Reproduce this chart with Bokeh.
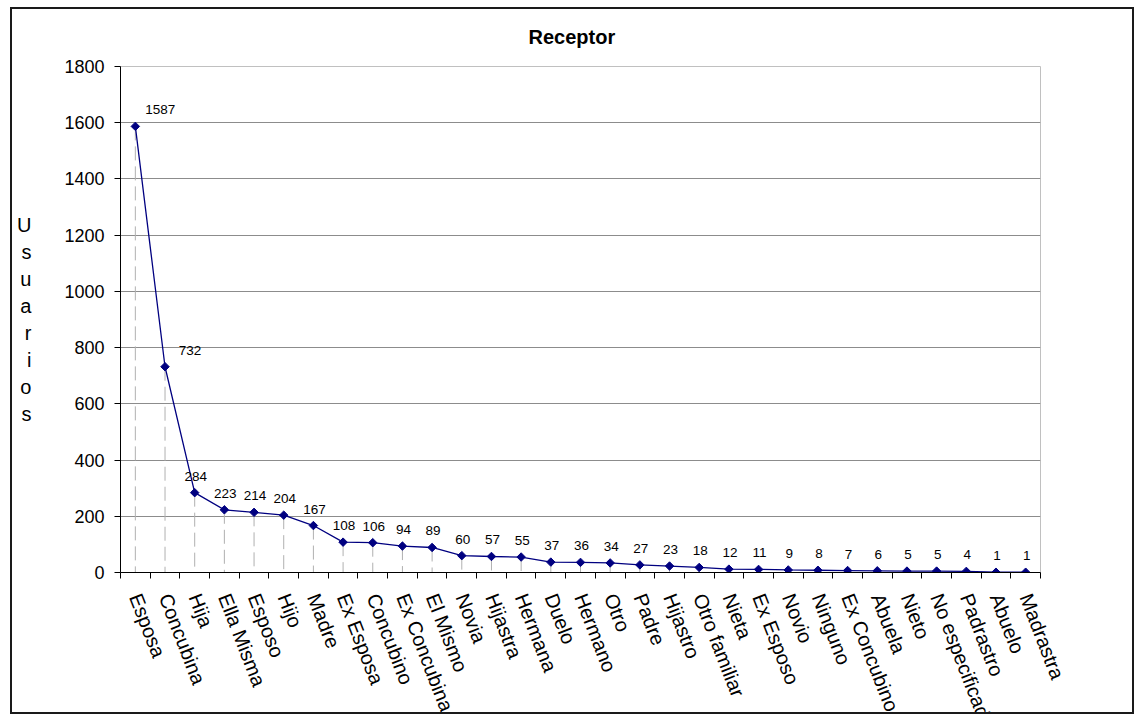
from bokeh.plotting import figure
from bokeh.models import ColumnDataSource, Range1d, FixedTicker, LabelSet
from bokeh.core.properties import value
from bokeh.embed import file_html
from bokeh.resources import INLINE

# ---- data ----
categories = ["Esposa", "Concubina", "Hija", "Ella Misma", "Esposo", "Hijo", "Madre",
              "Ex  Esposa", "Concubino", "Ex Concubina", "El Mismo", "Novia", "Hijastra",
              "Hermana", "Duelo", "Hermano", "Otro", "Padre", "Hijastro", "Otro familiar",
              "Nieta", "Ex  Esposo", "Novio", "Ninguno", "Ex Concubino", "Abuela", "Nieto",
              "No especificado", "Padrastro", "Abuelo", "Madrastra"]
values = [1587, 732, 284, 223, 214, 204, 167, 108, 106, 94, 89, 60, 57, 55, 37, 36, 34,
          27, 23, 18, 12, 11, 9, 8, 7, 6, 5, 5, 4, 1, 1]
y_ticks = [0, 200, 400, 600, 800, 1000, 1200, 1400, 1600, 1800]
chart_title = "Receptor"
y_title = "Usuarios"

n = len(categories)
idx = list(range(n))
bounds = [i - 0.5 for i in range(n + 1)]
y_lo, y_hi = y_ticks[0], y_ticks[-1]

FONT = "Liberation Sans"

src = ColumnDataSource(dict(
    x=idx, y=values, zero=[y_lo] * n,
    text=[str(v) for v in values],
    xoff=[25 if v > 500 else 1 for v in values],
))

p = figure(frame_width=920, frame_height=506,
           x_range=Range1d(-0.5, n - 0.5), y_range=Range1d(y_lo, y_hi),
           output_backend="svg", toolbar_location=None,
           min_border_left=108, min_border_right=92, min_border_top=57, min_border_bottom=144,
           background_fill_color="white", border_fill_color="white")
p.styles = {"border": "2px solid #1a1a1a", "margin-left": "10px", "margin-top": "7px",
            "height": "707px", "overflow": "hidden"}

p.outline_line_color = "#c0c0c0"
p.outline_line_width = 1

# title
p.title.text = chart_title
p.title.align = "left"
p.title.offset = 408
p.title.vertical_align = "top"
p.title.standoff = 33
p.title.text_font = FONT
p.title.text_font_size = "20px"
p.title.text_font_style = "bold"
p.title.text_color = "black"

# grid
p.xgrid.visible = False
p.ygrid.ticker = FixedTicker(ticks=y_ticks)
p.ygrid.grid_line_color = "#8c8c8c"
p.ygrid.grid_line_width = 1

# y axis
ya = p.yaxis[0]
ya.ticker = FixedTicker(ticks=y_ticks)
ya.axis_line_color = "black"
ya.major_tick_line_color = "black"
ya.major_tick_out = 6
ya.major_tick_in = 0
ya.minor_tick_out = 0
ya.minor_tick_in = 0
ya.major_label_standoff = 10
ya.major_label_text_font = FONT
ya.major_label_text_font_size = "18px"
ya.major_label_text_color = "black"
ya.axis_label = "\n".join(list(y_title))
ya.axis_label_text_font = FONT
ya.axis_label_text_font_size = "20px"
ya.axis_label_text_font_style = "normal"
ya.axis_label_text_color = "black"
ya.axis_label_text_line_height = 1.23
ya.axis_label_standoff = 30
try:
    ya.axis_label_orientation = "horizontal"
except Exception:
    pass

# x axis: names at category centres, tick marks at category boundaries
xa = p.xaxis[0]
xa.ticker = FixedTicker(ticks=idx, minor_ticks=bounds)
xa.major_label_overrides = {i: c for i, c in zip(idx, categories)}
xa.major_label_orientation = -1.2
xa.major_tick_out = 0
xa.major_tick_in = 0
xa.minor_tick_out = 6
xa.minor_tick_in = 0
xa.minor_tick_line_color = "black"
xa.axis_line_color = "black"
xa.major_label_standoff = 16
xa.major_label_text_font = FONT
xa.major_label_text_font_size = "20px"
xa.major_label_text_color = "black"

# drop lines
p.segment(x0="x", y0="y", x1="x", y1="zero", source=src,
          line_color="#b0b0b0", line_width=1, line_dash="14 6")

# series
p.line("x", "y", source=src, line_color="#000080", line_width=1.3)
p.scatter("x", "y", source=src, marker="square", angle=0.785398, size=6,
          fill_color="#000080", line_color="#000080")

p.add_layout(LabelSet(x="x", y="y", text="text", source=src, x_offset="xoff", y_offset=12,
                      text_align="center", text_baseline="alphabetic",
                      text_font=value(FONT), text_font_size="13.5px", text_color="black"))

open("out.html", "w").write(file_html(p, INLINE))
